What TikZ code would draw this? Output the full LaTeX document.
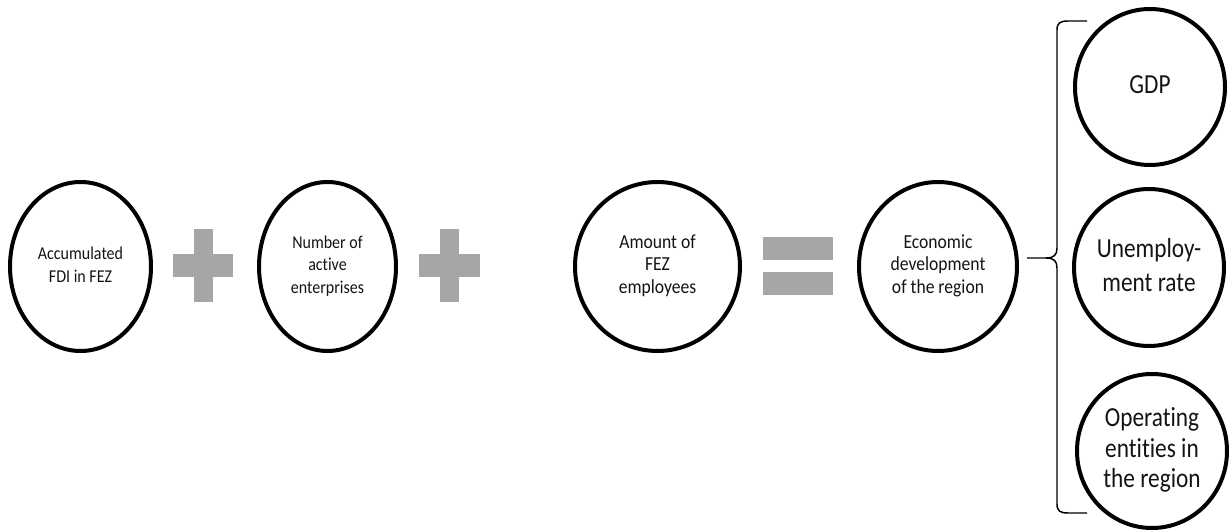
\documentclass[tikz,border=0pt]{standalone}
\usepackage{fontspec}
\usepackage{graphicx}
\setmainfont{Carlito}[Ligatures=NoCommon]
\usetikzlibrary{shapes.geometric}
\definecolor{signgray}{RGB}{166,166,166}
\definecolor{txt}{RGB}{20,20,20}
\newcommand{\stretchtext}[2]{\scalebox{1}[#1]{\begin{tabular}{@{}c@{}}#2\end{tabular}}}
\tikzset{
  bubble/.style={ellipse, draw=black, line width=3pt, inner sep=0pt, align=center, text=txt},
  smalltxt/.style={font=\fontsize{12}{14.8}\selectfont},
  midtxt/.style={font=\fontsize{13.2}{14.8}\selectfont},
  bigtxt/.style={font=\fontsize{17.5}{21}\selectfont},
  sign/.style={fill=signgray, draw=none},
  bracket/.style={draw=black, line width=1.1pt, line join=round}
}
\begin{document}
\begin{tikzpicture}[x=0.75pt,y=-0.75pt]
\useasboundingbox (0,0) rectangle (1229,531);
% left chain
\node[bubble, smalltxt, minimum width={141*0.75pt}, minimum height={169*0.75pt}] (c1) at (80.5,266.5) {\stretchtext{1.13}{Accumulated\\FDI in FEZ}};
\node[bubble, smalltxt, minimum width={137*0.75pt}, minimum height={169*0.75pt}] (c2) at (327.5,266.5) {\stretchtext{1.13}{Number of\\active\\enterprises}};
\node[bubble, midtxt, minimum width={165*0.75pt}, minimum height={169*0.75pt}] (c3) at (657.5,266.5) {\stretchtext{1.13}{Amount of\\FEZ\\employees}};
\node[bubble, midtxt, minimum width={158*0.75pt}, minimum height={169*0.75pt}] (c4) at (938,266.5) {\stretchtext{1.13}{Economic\\development\\of the region}};
% plus signs
\fill[sign] (173,254) rectangle (233,277);
\fill[sign] (194,229) rectangle (213,302);
\fill[sign] (419,254) rectangle (480,277);
\fill[sign] (440,229) rectangle (459,302);
% equals sign
\fill[sign] (763,237) rectangle (833,260);
\fill[sign] (763,272) rectangle (833,295);
% right circles
\node[bubble, bigtxt, minimum width={150*0.75pt}, minimum height={156*0.75pt}] (r1) at (1150,87) {\stretchtext{1.18}{GDP}};
\node[bubble, font=\fontsize{17.5}{21.6}\selectfont, minimum width={150*0.75pt}, minimum height={157*0.75pt}] (r2) at (1149,267.5) {\stretchtext{1.18}{Unemploy-\\ment rate}};
\node[bubble, font=\fontsize{17.5}{19.2}\selectfont, minimum width={150*0.75pt}, minimum height={154*0.75pt}] (r3) at (1152,451) {\stretchtext{1.18}{Operating\\entities in\\the region}};
% brace
\coordinate (btop) at (1087,21);
\coordinate (bbot) at (1087,513);
\coordinate (btip) at (1027,258);
\draw[bracket] (btop) -- (1068,21) .. controls (1060,21) and (1057,23) .. (1057,30)
  -- (1057,248) .. controls (1057,255) and (1054,258) .. (1046,258) -- (btip);
\draw[bracket] (bbot) -- (1068,513) .. controls (1060,513) and (1057,511) .. (1057,504)
  -- (1057,268) .. controls (1057,261) and (1054,258) .. (1046,258);
\end{tikzpicture}
\end{document}
